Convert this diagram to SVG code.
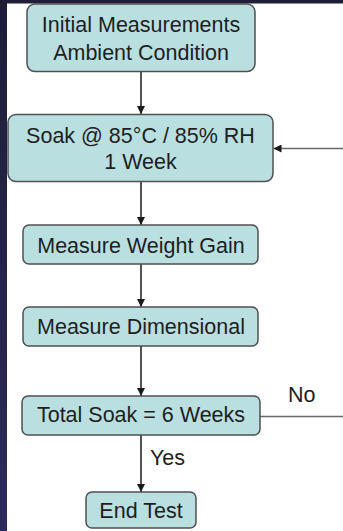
<svg xmlns="http://www.w3.org/2000/svg" width="343" height="531" viewBox="0 0 343 531">
<defs>
<linearGradient id="strip" x1="0" y1="0" x2="0" y2="1">
<stop offset="0" stop-color="#1f1d35"/>
<stop offset="1" stop-color="#2b2a5c"/>
</linearGradient>
<marker id="ah" markerWidth="8" markerHeight="8" refX="8" refY="4" orient="auto" markerUnits="userSpaceOnUse">
<path d="M0,0 L8,4 L0,8 Z" fill="#1a1a1a"/>
</marker>
<style>
.box{fill:#b9dfe1;stroke:#505050;stroke-width:1.5}
.t{font-family:"Liberation Sans",Arial,sans-serif;font-size:21.5px;fill:#1e1e1e;text-anchor:middle}
.lbl{font-family:"Liberation Sans",Arial,sans-serif;font-size:21.5px;fill:#1e1e1e}
.c{stroke:#1a1a1a;stroke-width:1.5;fill:none}
.c2{stroke:#6a6a6a;stroke-width:1.3;fill:none}
</style>
</defs>
<rect x="0" y="0" width="343" height="531" fill="#ffffff"/>
<rect x="0" y="0" width="343" height="3.5" fill="#201e38"/>
<rect x="0" y="0" width="7" height="531" fill="url(#strip)"/>
<g id="connectors">
<line class="c" x1="141" y1="72" x2="141" y2="114" marker-end="url(#ah)"/>
<line class="c" x1="141" y1="182" x2="141" y2="225" marker-end="url(#ah)"/>
<line class="c" x1="141" y1="264" x2="141" y2="307" marker-end="url(#ah)"/>
<line class="c" x1="141" y1="346" x2="141" y2="396" marker-end="url(#ah)"/>
<line class="c" x1="141" y1="435" x2="141" y2="492" marker-end="url(#ah)"/>
<line class="c2" x1="260" y1="416.5" x2="343" y2="416.5"/>
<line class="c2" x1="343" y1="148.5" x2="273.5" y2="148.5" marker-end="url(#ah)"/>
<text class="lbl" x="288" y="402">No</text>
<text class="lbl" x="150" y="465">Yes</text>
</g>
<g id="n1">
<rect class="box" x="27" y="4" width="228" height="67.5" rx="8"/>
<text class="t" x="141" y="32">Initial Measurements</text>
<text class="t" x="141" y="60">Ambient Condition</text>
</g>
<g id="n2">
<rect class="box" x="8" y="114.5" width="265" height="67" rx="8"/>
<text class="t" x="140.5" y="143">Soak @ 85°C / 85% RH</text>
<text class="t" x="140.5" y="168.5">1 Week</text>
</g>
<g id="n3">
<rect class="box" x="23" y="225" width="235" height="39" rx="6"/>
<text class="t" x="141" y="252.5">Measure Weight Gain</text>
</g>
<g id="n4">
<rect class="box" x="23" y="307" width="235" height="39" rx="6"/>
<text class="t" x="141" y="334">Measure Dimensional</text>
</g>
<g id="n5">
<rect class="box" x="22" y="396" width="238" height="39" rx="6"/>
<text class="t" x="141" y="422">Total Soak = 6 Weeks</text>
</g>
<g id="n6">
<rect class="box" x="86" y="492" width="110" height="36" rx="6"/>
<text class="t" x="141" y="518">End Test</text>
</g>
</svg>
